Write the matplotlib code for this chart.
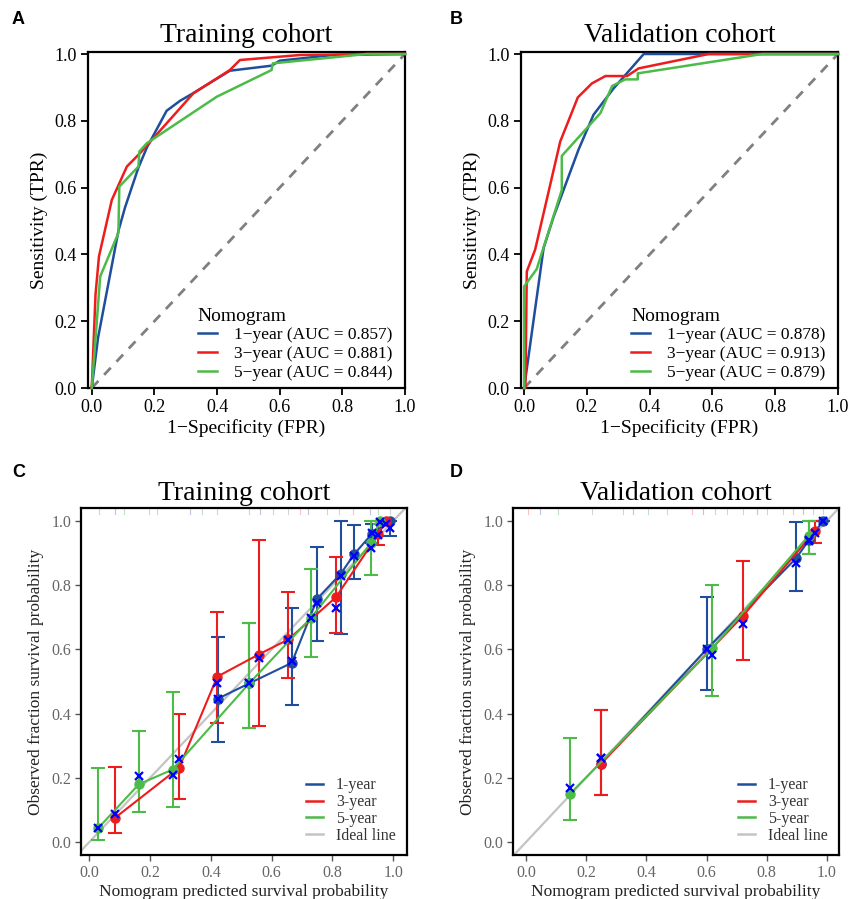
import matplotlib as mpl
mpl.use("Agg")
import matplotlib.pyplot as plt
import numpy as np

plt.rcParams['font.family'] = ['Liberation Serif', 'DejaVu Serif']
plt.rcParams['mathtext.default'] = 'regular'

BLUE = "#1f4e9c"
RED = "#ee1c1c"
GREEN = "#4cbb47"
XBLUE = "#0000ff"

# ROC curves, training cohort (FPR, TPR)
train_fpr_1 = [0, 0.02, 0.085, 0.106, 0.149, 0.176, 0.239, 0.282, 0.319, 0.441, 0.574, 0.60, 0.77, 1.0]
train_tpr_1 = [0, 0.15, 0.47, 0.54, 0.66, 0.72, 0.83, 0.86, 0.88, 0.95, 0.965, 0.98, 0.997, 1.0]
train_fpr_3 = [0, 0.012, 0.023, 0.064, 0.112, 0.154, 0.324, 0.441, 0.473, 0.665, 0.88, 1.0]
train_tpr_3 = [0, 0.28, 0.394, 0.563, 0.663, 0.703, 0.882, 0.952, 0.982, 0.997, 1.0, 1.0]
train_fpr_5 = [0, 0.027, 0.085, 0.088, 0.149, 0.152, 0.176, 0.399, 0.574, 0.578, 0.878, 1.0]
train_tpr_5 = [0, 0.334, 0.464, 0.603, 0.663, 0.708, 0.733, 0.872, 0.952, 0.972, 1.0, 1.0]
train_auc = ["0.857", "0.881", "0.844"]

# ROC curves, validation cohort
val_fpr_1 = [0, 0.062, 0.094, 0.173, 0.221, 0.285, 0.381, 1.0]
val_tpr_1 = [0, 0.419, 0.513, 0.713, 0.818, 0.897, 1.0, 1.0]
val_fpr_3 = [0, 0.004, 0.0085, 0.035, 0.115, 0.171, 0.216, 0.259, 0.328, 0.365, 0.588, 1.0]
val_tpr_3 = [0, 0.0, 0.349, 0.414, 0.738, 0.870, 0.912, 0.934, 0.934, 0.957, 1.0, 1.0]
val_fpr_5 = [0, 0.0, 0.040, 0.120, 0.120, 0.243, 0.280, 0.322, 0.362, 0.362, 0.759, 1.0]
val_tpr_5 = [0, 0.304, 0.356, 0.593, 0.695, 0.823, 0.904, 0.924, 0.924, 0.942, 1.0, 1.0]
val_auc = ["0.878", "0.913", "0.879"]

# calibration, training cohort: predicted, observed, CI low, CI high, bias-corrected
cal_tr_pred_1 = [0.424, 0.526, 0.666, 0.750, 0.827, 0.872, 0.930, 0.989]
cal_tr_obs_1 = [0.447, 0.494, 0.558, 0.758, 0.835, 0.897, 0.960, 1.0]
cal_tr_lo_1 = [0.313, 0.355, 0.428, 0.625, 0.647, 0.818, 0.930, 0.953]
cal_tr_hi_1 = [0.637, 0.683, 0.728, 0.918, 1.0, 0.987, 0.990, 1.0]
cal_tr_cor_1 = [0.447, 0.494, 0.565, 0.745, 0.827, 0.890, 0.962, 0.977]

cal_tr_pred_3 = [0.084, 0.296, 0.421, 0.557, 0.655, 0.811, 0.951, 0.976]
cal_tr_obs_3 = [0.075, 0.232, 0.515, 0.584, 0.631, 0.762, 0.959, 1.0]
cal_tr_lo_3 = [0.027, 0.135, 0.370, 0.360, 0.510, 0.650, 0.925, 1.0]
cal_tr_hi_3 = [0.233, 0.400, 0.717, 0.940, 0.780, 0.888, 1.0, 1.0]
cal_tr_cor_3 = [0.088, 0.260, 0.496, 0.572, 0.629, 0.730, 0.955, 0.990]

cal_tr_pred_5 = [0.029, 0.163, 0.274, 0.526, 0.728, 0.926, 0.956]
cal_tr_obs_5 = [0.043, 0.180, 0.226, 0.494, 0.697, 0.930, 1.0]
cal_tr_lo_5 = [0.007, 0.094, 0.110, 0.355, 0.577, 0.832, 0.990]
cal_tr_hi_5 = [0.230, 0.345, 0.467, 0.683, 0.850, 1.0, 1.0]
cal_tr_cor_5 = [0.043, 0.205, 0.210, 0.494, 0.697, 0.915, 0.996]

# calibration, validation cohort
cal_va_pred_1 = [0.249, 0.600, 0.898, 0.940, 0.987]
cal_va_obs_1 = [0.244, 0.600, 0.884, 0.940, 1.0]
cal_va_lo_1 = [0.146, 0.472, 0.782, 0.896, 1.0]
cal_va_hi_1 = [0.410, 0.762, 0.996, 1.0, 1.0]
cal_va_cor_1 = [0.263, 0.600, 0.868, 0.939, 1.0]

cal_va_pred_3 = [0.249, 0.722, 0.959]
cal_va_obs_3 = [0.244, 0.705, 0.967]
cal_va_lo_3 = [0.146, 0.566, 0.930]
cal_va_hi_3 = [0.410, 0.876, 0.998]
cal_va_cor_3 = [0.263, 0.679, 0.962]

cal_va_pred_5 = [0.147, 0.619, 0.939]
cal_va_obs_5 = [0.151, 0.603, 0.954]
cal_va_lo_5 = [0.070, 0.455, 0.896]
cal_va_hi_5 = [0.325, 0.800, 1.0]
cal_va_cor_5 = [0.168, 0.584, 0.938]

# rug of predicted values at top of calibration panels
rug_tr = [0.031, 0.086, 0.113, 0.195, 0.223, 0.332, 0.371, 0.42, 0.524, 0.563,
          0.606, 0.655, 0.694, 0.72, 0.782, 0.82, 0.869, 0.924, 0.951, 0.99]
rug_va = [0.008, 0.047, 0.107, 0.218, 0.323, 0.357, 0.406, 0.467, 0.55, 0.589,
          0.628, 0.667, 0.722, 0.766, 0.8, 0.855, 0.888, 0.921, 0.955, 0.988]

W, H = 849, 899
fig = plt.figure(figsize=(W / 100, H / 100), dpi=100)


def add_ax(left, top, right, bottom):
    return fig.add_axes([left / W, 1 - bottom / H, (right - left) / W, (bottom - top) / H])


def roc_panel(ax, curves, aucs, title):
    ax.plot([0, 1], [0, 1], color="#808080", lw=2, ls=(0, (3.5, 3)), zorder=1)
    cols = [BLUE, RED, GREEN]
    names = ["1\u2212year", "3\u2212year", "5\u2212year"]
    for (fx, ty), c, n, a in zip(curves, cols, names, aucs):
        ax.plot(fx, ty, color=c, lw=1.8, label="%s (AUC = %s)" % (n, a), clip_on=False, zorder=3)
    ax.set_xlim(-0.012, 1.0)
    ax.set_ylim(0, 1.006)
    ax.set_xticks(np.arange(0, 1.01, 0.2))
    ax.set_yticks(np.arange(0, 1.01, 0.2))
    ax.xaxis.set_major_formatter(mpl.ticker.FormatStrFormatter("%.1f"))
    ax.yaxis.set_major_formatter(mpl.ticker.FormatStrFormatter("%.1f"))
    ax.tick_params(labelsize=13, width=1.3, length=5, pad=3, direction="out", color="black")
    for s in ax.spines.values():
        s.set_linewidth(1.6)
    ax.set_xlabel("1\u2212Specificity (FPR)", fontsize=14, labelpad=2)
    ax.set_ylabel("Sensitivity (TPR)", fontsize=14, labelpad=5)
    ax.set_title(title, fontsize=20, pad=7)
    ax.legend(title="Nomogram", loc="lower right", bbox_to_anchor=(1.0, -0.015),
              frameon=False, fontsize=12.5, title_fontsize=14, handlelength=1.1,
              handletextpad=1.0, labelspacing=0.15, alignment="left", borderaxespad=0.3)


def cal_series(ax, pred, obs, lo, hi, cor, color):
    pred = np.array(pred)
    obs = np.array(obs)
    yerr = [obs - np.array(lo), np.array(hi) - obs]
    ax.errorbar(pred, obs, yerr=yerr, color=color, lw=1.5, capsize=5, capthick=1.5,
                marker="o", ms=6.5, zorder=3)
    return pred, cor


def cal_panel(ax, series, rug, title, xlim):
    ax.plot([-0.1, 1.1], [-0.1, 1.1], color="#c4c4c4", lw=1.6, zorder=1)
    rug_cols = ["#ff9999", "#9999cc", "#99cc99", "#bbbbbb"]
    for i, r in enumerate(rug):
        ax.plot([r, r], [1.02, 1.04], color=rug_cols[i % 4], lw=0.8, alpha=0.6, zorder=1)
    marks = []
    for s in series:
        marks.append(cal_series(ax, *s))
    for p, c in marks:
        ax.plot(p, c, ls="none", marker="x", color=XBLUE, ms=6, mew=1.6, zorder=5)
    ax.set_xlim(*xlim)
    ax.set_ylim(-0.04, 1.04)
    ax.set_xticks(np.arange(0, 1.01, 0.2))
    ax.set_yticks(np.arange(0, 1.01, 0.2))
    ax.xaxis.set_major_formatter(mpl.ticker.FormatStrFormatter("%.1f"))
    ax.yaxis.set_major_formatter(mpl.ticker.FormatStrFormatter("%.1f"))
    ax.tick_params(labelsize=11.5, labelcolor="#666666", width=1.0, length=4, pad=3,
                   direction="out", color="#555555")
    for s in ax.spines.values():
        s.set_linewidth(1.6)
    ax.set_xlabel("Nomogram predicted survival probability", fontsize=12.5, labelpad=2, color="#222222")
    ax.set_ylabel("Observed fraction survival probability", fontsize=12.5, labelpad=5, color="#222222")
    ax.set_title(title, fontsize=20, pad=6)
    hs = [plt.Line2D([], [], color=c, lw=1.8) for c in [BLUE, RED, GREEN, "#c4c4c4"]]
    ax.legend(hs, ["1-year", "3-year", "5-year", "Ideal line"], loc="lower right",
              frameon=False, fontsize=11.5, handlelength=1.1, handletextpad=0.8,
              labelspacing=0.05, borderaxespad=0.3, labelcolor="#333333")


axA = add_ax(88, 52, 405, 388)
roc_panel(axA, [(train_fpr_1, train_tpr_1), (train_fpr_3, train_tpr_3), (train_fpr_5, train_tpr_5)],
          train_auc, "Training cohort")
axB = add_ax(521, 52, 838, 388)
roc_panel(axB, [(val_fpr_1, val_tpr_1), (val_fpr_3, val_tpr_3), (val_fpr_5, val_tpr_5)],
          val_auc, "Validation cohort")
axB.set_xlim(-0.01, 1.0)

axC = add_ax(81, 508, 407, 855)
cal_panel(axC, [
    (cal_tr_pred_1, cal_tr_obs_1, cal_tr_lo_1, cal_tr_hi_1, cal_tr_cor_1, BLUE),
    (cal_tr_pred_3, cal_tr_obs_3, cal_tr_lo_3, cal_tr_hi_3, cal_tr_cor_3, RED),
    (cal_tr_pred_5, cal_tr_obs_5, cal_tr_lo_5, cal_tr_hi_5, cal_tr_cor_5, GREEN),
], rug_tr, "Training cohort", (-0.027, 1.045))

axD = add_ax(513, 508, 839, 855)
cal_panel(axD, [
    (cal_va_pred_1, cal_va_obs_1, cal_va_lo_1, cal_va_hi_1, cal_va_cor_1, BLUE),
    (cal_va_pred_3, cal_va_obs_3, cal_va_lo_3, cal_va_hi_3, cal_va_cor_3, RED),
    (cal_va_pred_5, cal_va_obs_5, cal_va_lo_5, cal_va_hi_5, cal_va_cor_5, GREEN),
], rug_va, "Validation cohort", (-0.043, 1.04))

for lab, x, y in [("A", 12, 20), ("B", 450, 20), ("C", 12, 472), ("D", 450, 472)]:
    fig.text(x / W, 1 - y / H, lab, fontsize=13, fontweight="bold",
             family="Liberation Sans", va="center", ha="left")

fig.savefig("out.png", dpi=100)
